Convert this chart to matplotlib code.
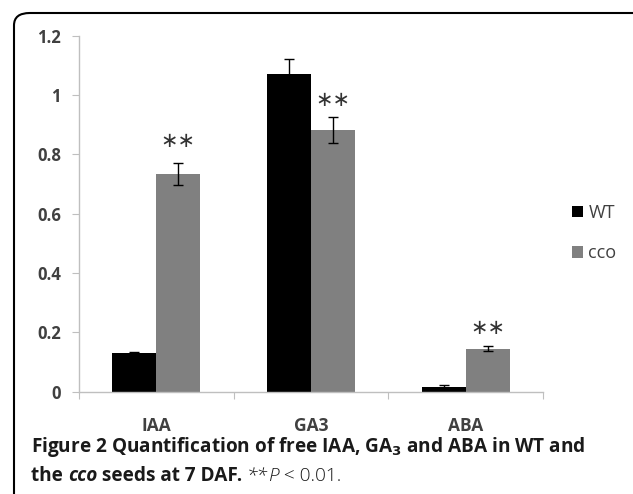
import numpy as np
import matplotlib
matplotlib.use("Agg")
import matplotlib.pyplot as plt
from matplotlib.patches import FancyBboxPatch

hormones = ["IAA", "GA3", "ABA"]
wt_vals = [0.130, 1.070, 0.017]
wt_err = [0.005, 0.051, 0.005]
cco_vals = [0.733, 0.882, 0.145]
cco_err = [0.037, 0.044, 0.008]
star_y = [0.846, 0.983, 0.215]
yticks = [0, 0.2, 0.4, 0.6, 0.8, 1, 1.2]
ytick_labels = ["0", "0.2", "0.4", "0.6", "0.8", "1", "1.2"]

TXT = "#404040"; AXC = "#bfbfbf"; CAP = "#1a1a1a"

plt.rcParams.update({"font.family": ["Open Sans", "DejaVu Sans"]})
fig = plt.figure(figsize=(6.33, 4.94), dpi=100)
ax = fig.add_axes([79 / 633, 1 - 391.7 / 494, 464 / 633, 356 / 494])

x = np.arange(len(hormones)); w = 0.284
ekw = dict(ecolor="black", elinewidth=1.0, capsize=3.5, capthick=1.0)
ax.bar(x - w / 2, wt_vals, w, yerr=wt_err, color="black", label="WT", error_kw=ekw)
ax.bar(x + w / 2, cco_vals, w, yerr=cco_err, color="#808080", label="cco", error_kw=ekw)
for xi, sy in zip(x, star_y):
    ax.text(xi + w / 2, sy, "\u2217\u2217", ha="center", va="center", fontsize=15,
            family="DejaVu Sans", color="#333333")

ax.set_xlim(-0.5, 2.5); ax.set_ylim(0, 1.2)
ax.set_yticks(yticks)
ax.set_yticklabels(ytick_labels, fontsize=12, color=TXT, fontweight="bold")
ax.set_xticks([-0.5, 0.5, 1.5, 2.5]); ax.set_xticklabels([])
ax.set_xticks(x, minor=True)
ax.set_xticklabels(hormones, minor=True, fontsize=12.5, color=TXT, fontweight="bold")
ax.tick_params(axis="x", which="minor", length=0, pad=18)
ax.tick_params(axis="x", which="major", length=5, color=AXC, direction="out")
ax.tick_params(axis="y", length=5, color=AXC, pad=8)
for s in ["top", "right"]:
    ax.spines[s].set_visible(False)
for s in ["left", "bottom"]:
    ax.spines[s].set_color(AXC); ax.spines[s].set_linewidth(1.0)

leg = ax.legend(loc="center left", bbox_to_anchor=(1.063, 0.446), frameon=False,
                borderpad=0, borderaxespad=0,
                handlelength=0.6, handleheight=0.6, handletextpad=0.3,
                labelspacing=1.25, fontsize=13)
for t in leg.get_texts():
    t.set_color(TXT)

# figure frame and caption
fig.patches.append(FancyBboxPatch((14 / 633, -0.2), 1.2, 1 - 13 / 494 + 0.2,
                                  boxstyle="round,pad=0,rounding_size=0.025",
                                  transform=fig.transFigure, fill=False,
                                  edgecolor="black", linewidth=1.5))
fig.text(31 / 633, 1 - 447 / 494,
         "Figure 2 Quantification of free IAA, GA$_\\mathbf{3}$ and ABA in WT and",
         fontsize=13.7, fontweight="bold", va="center", color=CAP)
t1 = fig.text(31 / 633, 1 - 476 / 494, "the ", fontsize=13.7, fontweight="bold",
              va="center", color=CAP)
fig.canvas.draw()
r = fig.canvas.get_renderer()
def after(t, s, **kw):
    bb = t.get_window_extent(r)
    return fig.text(bb.x1 / fig.bbox.width, t.get_position()[1], s, va="center",
                    color=CAP, fontsize=13.7, **kw)
t2 = after(t1, "cco", fontweight="bold", style="italic")
t3 = after(t2, " seeds at 7 DAF. ", fontweight="bold")
t4 = after(t3, "**", fontweight="light", style="italic")
t5 = after(t4, "P", fontweight="light", style="italic")
after(t5, " < 0.01.", fontweight="light")

fig.savefig("out.png", dpi=100)
